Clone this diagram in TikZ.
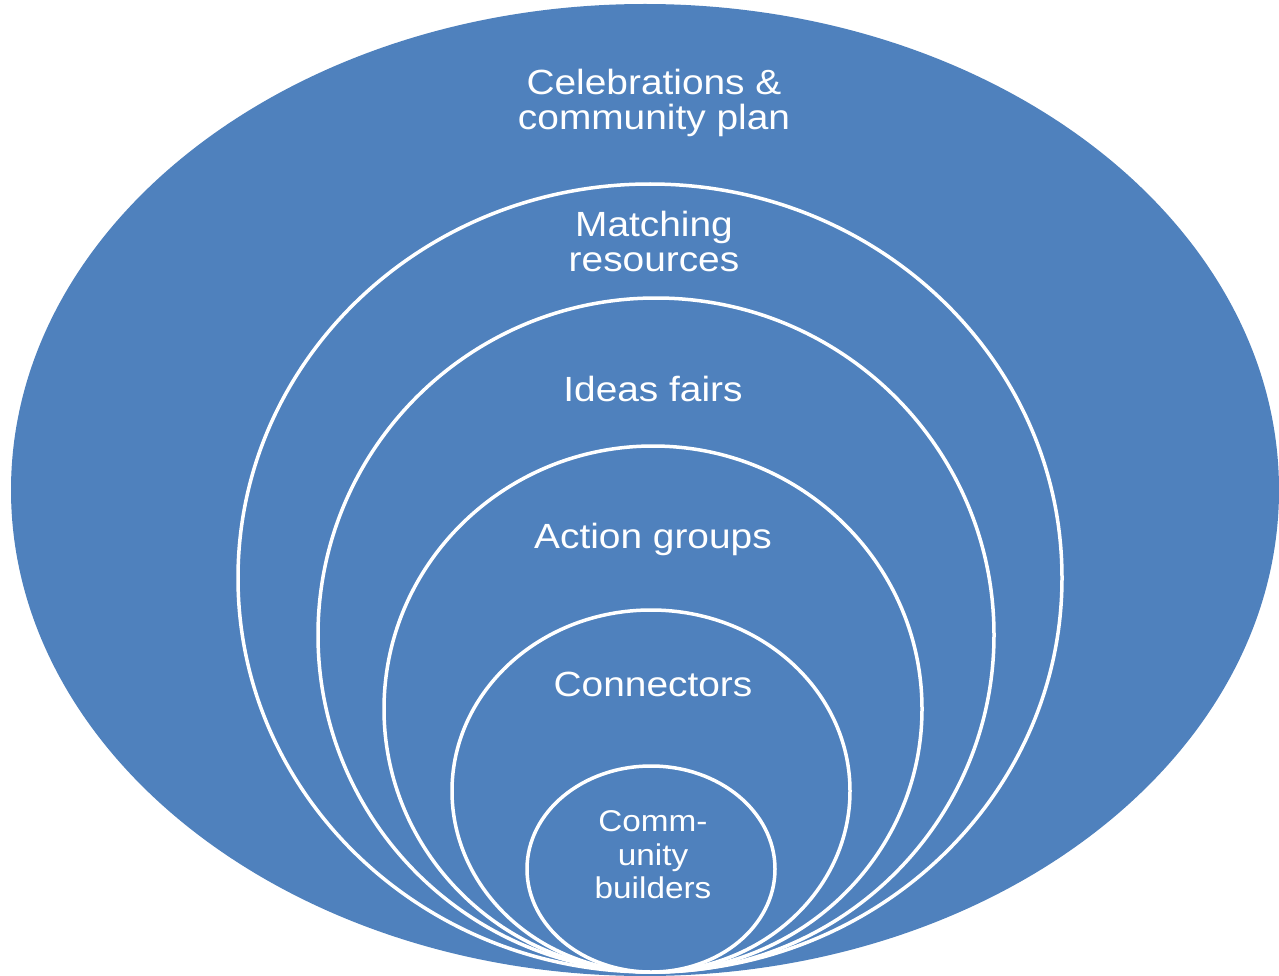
\documentclass[tikz,border=0pt]{standalone}
\usepackage{fontspec}
\setmainfont{Liberation Sans}
\newfontfamily\widesans[FakeStretch=1.11]{Liberation Sans}
\definecolor{ringblue}{RGB}{79,129,189}
\usetikzlibrary{positioning}

\begin{document}
\begin{tikzpicture}[x=1pt,y=-1pt,
    ring/.style={fill=ringblue, draw=white, line width=3.5pt},
    lbl/.style={text=white, align=center, inner sep=0pt, font=\widesans\fontsize{35}{35}\selectfont},
    smalllbl/.style={lbl, font=\widesans\fontsize{30}{33.5}\selectfont}]
    \useasboundingbox (0,0) rectangle (1279,976);
    \clip (0,0) rectangle (1279,976);
    % outer ring, then the nested ones, all touching at the bottom
    \fill[ringblue] (645,490) ellipse [x radius=634, y radius=486];
    \draw[ring] (650,578) ellipse [x radius=412, y radius=394];
    \draw[ring] (656,635) ellipse [x radius=338, y radius=337];
    \draw[ring] (653,709) ellipse [x radius=269, y radius=263];
    \draw[ring] (651,791) ellipse [x radius=199, y radius=181];
    \draw[ring] (651,869) ellipse [x radius=124, y radius=103];

    \node[lbl] (celebrations) at (654,103) {Celebrations \&\\community plan};
    \node[lbl] (matching) at (654,241) {Matching\\resources};
    \node[lbl] (ideas) at (653,389) {Ideas fairs};
    \node[lbl] (action) at (653,539) {Action groups};
    \node[lbl] (connectors) at (653,684) {Connectors};
    \node[smalllbl] (builders) at (653,855) {Comm-\\unity\\builders};
\end{tikzpicture}
\end{document}
